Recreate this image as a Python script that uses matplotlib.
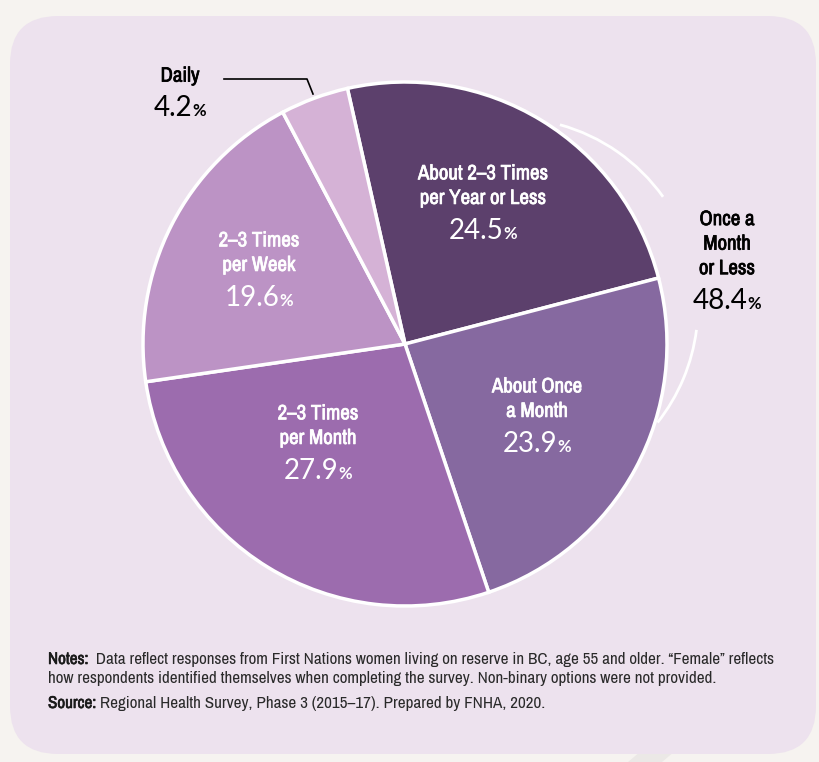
import matplotlib.pyplot as plt
from matplotlib import font_manager
import matplotlib.patheffects as pe
from matplotlib.patches import FancyBboxPatch, Arc, Polygon
from matplotlib.offsetbox import TextArea, HPacker, VPacker, AnnotationBbox

# slices, clockwise from the top
categories = ["About 2–3 Times\nper Year or Less", "About Once\na Month",
              "2–3 Times\nper Month", "2–3 Times\nper Week", "Daily"]
shares = [24.5, 23.9, 27.9, 19.6, 4.2]
colors = ["#5c406c", "#8669a0", "#9c6cae", "#bc93c5", "#d5b2d6"]

group_label = "Once a\nMonth\nor Less"
group_share = 48.4

notes = ("Data reflect responses from First Nations women living on reserve in BC, "
         "age 55 and older. \u201cFemale\u201d reflects")
notes2 = ("how respondents identified themselves when completing the survey. "
          "Non-binary options were not provided.")
source = "Regional Health Survey, Phase 3 (2015\u201317). Prepared by FNHA, 2020."

W, H = 820, 762

# find something narrow among the installed fonts
fonts = font_manager.fontManager.ttflist
narrow_name = None
for f in fonts:
    if "Narrow" in f.name or "Condensed" in f.name:
        narrow_name = f.name
        break
if narrow_name is None:
    narrow_name = "Roboto"
narrow = dict(family=[narrow_name, "DejaVu Sans"])
has_bold = any(f.name == narrow_name and f.weight in ("bold", 700) for f in fonts)
NUM = ["Lato", "DejaVu Sans"]


def bold_props(color, size):
    # fake the bold weight with a thin stroke if the narrow face has no bold
    props = dict(color=color, fontsize=size, fontweight="bold", **narrow)
    if not has_bold:
        props["path_effects"] = [pe.withStroke(linewidth=size * 0.035, foreground=color)]
    return props


def px(x, y):
    # pixel coords (y down) -> data coords (y up)
    return x, H - y


def label_box(ax, x, y, text, pct, color, size=15):
    rows = []
    if text:
        for line in text.split("\n"):
            rows.append(TextArea(line, textprops=bold_props(color, size)))
    block = VPacker(children=rows, align="center", pad=0, sep=4)
    num = TextArea(f"{pct:.1f}", textprops=dict(color=color, fontsize=20, family=NUM))
    sign = TextArea("%", textprops=dict(color=color, fontsize=12, family=NUM,
                                        fontweight="bold"))
    pct_row = HPacker(children=[num, sign], align="baseline", pad=0, sep=0)
    box = VPacker(children=[block, pct_row], align="center", pad=0, sep=7)
    ab = AnnotationBbox(box, px(x, y), frameon=False, box_alignment=(0.5, 0.5),
                        zorder=5)
    ax.add_artist(ab)


def text_line(ax, x, y, bold, rest, size):
    if bold:
        first = ax.text(*px(x, y), bold, va="baseline", **bold_props("#1a1a1a", size))
        return first, ax.annotate(rest, xy=(1, 0), xycoords=first, va="bottom",
                                  fontsize=size, color="#2a2a2a", **narrow)
    return None, ax.text(*px(x, y), rest, fontsize=size, color="#2a2a2a",
                         va="baseline", **narrow)


fig = plt.figure(figsize=(W / 100, H / 100), dpi=100)
fig.patch.set_facecolor("#f6f3f0")
ax = fig.add_axes([0, 0, 1, 1])

# faint stripe peeking out under the panel
ax.add_patch(Polygon([px(628, 762), px(662, 762), px(700, 730), px(666, 730)],
                     closed=True, facecolor="#ebe8e6", edgecolor="none", zorder=0))
# lavender panel
ax.add_patch(FancyBboxPatch(px(10, 754), 806, 738,
                            boxstyle="round,pad=0,rounding_size=48",
                            facecolor="#ede2ee", edgecolor="none", zorder=0.5))

wedges, _ = ax.pie(shares, colors=colors, startangle=102.7, counterclock=False,
                   center=px(405, 344), radius=262, normalize=True,
                   wedgeprops=dict(edgecolor="white", linewidth=2.5))
for w in wedges:
    w.set_zorder(2)

ax.set_xlim(0, W)
ax.set_ylim(0, H)
ax.set_aspect("equal")
ax.axis("off")

# labels inside slices
label_box(ax, 483, 204, categories[0], shares[0], "white")
label_box(ax, 537, 417, categories[1], shares[1], "white")
label_box(ax, 318, 444, categories[2], shares[2], "white")
label_box(ax, 259, 271, categories[3], shares[3], "white")
label_box(ax, 180, 94, categories[4], shares[4], "black")

# leader for Daily
ax.plot([px(224, 79)[0], px(307, 79)[0], px(313, 94)[0]],
        [px(224, 79)[1], px(307, 79)[1], px(313, 94)[1]],
        color="black", linewidth=1.2, zorder=3)

# bracket arc around the two least frequent slices
arc_c = px(510, 306)
ax.add_patch(Arc(arc_c, 376, 376, theta1=35.5, theta2=74.6,
                 color="white", linewidth=2, zorder=3))
ax.add_patch(Arc(arc_c, 376, 376, theta1=-38.3, theta2=-7.3,
                 color="white", linewidth=2, zorder=3))
label_box(ax, 727, 262, group_label, group_share, "black")

# notes -- size the font so the first line spans the same width as the reference
size = 10.5
for _ in range(3):
    lines = [text_line(ax, 48, 664, "Notes:", "  " + notes, size),
             text_line(ax, 48, 683, None, notes2, size),
             text_line(ax, 48, 708, "Source:", " " + source, size)]
    fig.canvas.draw()
    width = lines[0][1].get_window_extent().x1 - 48
    if abs(width - 729) < 4:
        break
    for a, b in lines:
        if a is not None:
            a.remove()
        b.remove()
    size = size * 729 / width

fig.savefig("out.png", dpi=100, facecolor=fig.get_facecolor())
